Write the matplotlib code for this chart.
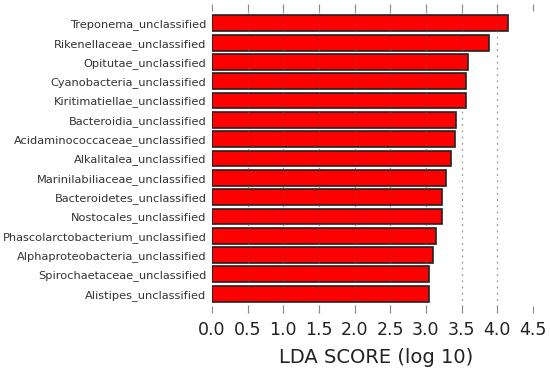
import matplotlib
matplotlib.use("Agg")
import matplotlib.pyplot as plt

taxa = [
    "Treponema_unclassified",
    "Rikenellaceae_unclassified",
    "Opitutae_unclassified",
    "Cyanobacteria_unclassified",
    "Kiritimatiellae_unclassified",
    "Bacteroidia_unclassified",
    "Acidaminococcaceae_unclassified",
    "Alkalitalea_unclassified",
    "Marinilabiliaceae_unclassified",
    "Bacteroidetes_unclassified",
    "Nostocales_unclassified",
    "Phascolarctobacterium_unclassified",
    "Alphaproteobacteria_unclassified",
    "Spirochaetaceae_unclassified",
    "Alistipes_unclassified",
]
lda = [4.155, 3.88, 3.586, 3.558, 3.558, 3.417, 3.41, 3.35, 3.277,
       3.226, 3.226, 3.137, 3.095, 3.043, 3.043]
xticks = [0.0, 0.5, 1.0, 1.5, 2.0, 2.5, 3.0, 3.5, 4.0, 4.5]

fig = plt.figure(figsize=(5.5, 3.68), dpi=100)
ax = fig.add_axes([212/550, 1 - 313/368, 328/550, 309/368])

n = len(taxa)
ypos = list(range(n - 1, -1, -1))
ax.barh(ypos, lda, height=0.82, color="#ff0000", edgecolor="#222222",
        linewidth=1.2, zorder=2)
ax.set_ylim(-1, n)
ax.set_xlim(0, 4.6)
ax.set_yticks(ypos)
ax.set_yticklabels(taxa, fontsize=8.2, color="#333333")
ax.set_xticks(xticks)
ax.set_xticklabels([f"{t:.1f}" for t in xticks], fontsize=12.5, color="#222222")
ax.set_xlabel("LDA SCORE (log 10)", fontsize=14, color="#222222", labelpad=6)

for s in ax.spines.values():
    s.set_visible(False)
ax.tick_params(axis="y", length=0, pad=4)
ax.tick_params(axis="x", direction="in", length=5, width=0.8, color="#888888",
               top=True, bottom=True, pad=6)
ax.grid(axis="x", linestyle=(0, (1.5, 3.5)), color="#555555", alpha=0.6,
        linewidth=0.9, zorder=3)
ax.set_axisbelow(False)
gl = ax.xaxis.get_gridlines()
gl[0].set_visible(False)
gl[-1].set_visible(False)

fig.savefig("out.png", dpi=100)
